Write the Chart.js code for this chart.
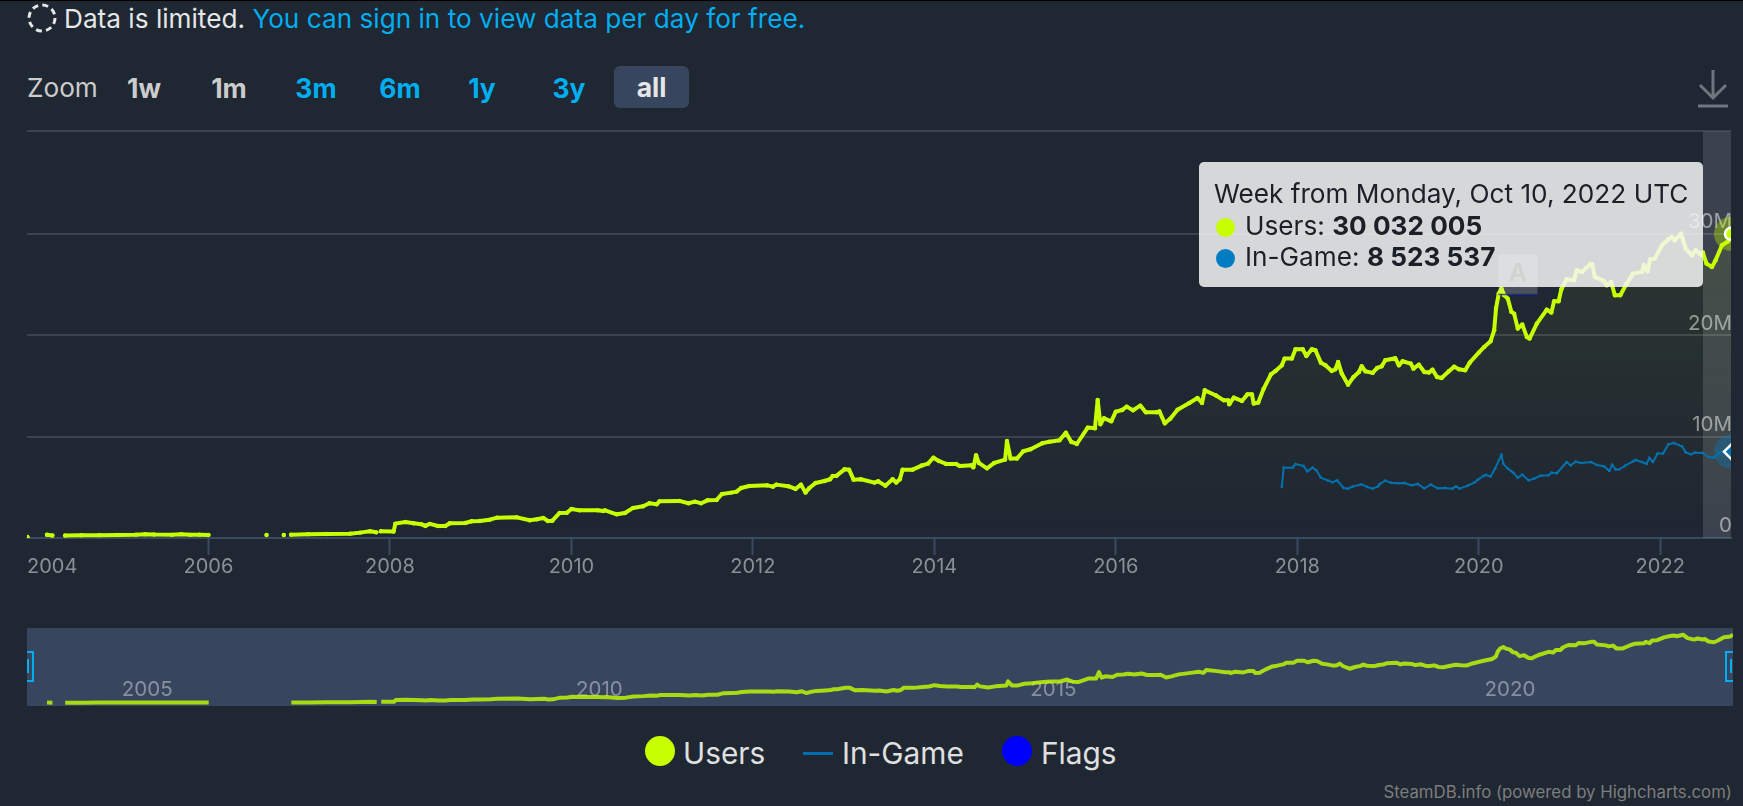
<!DOCTYPE html>
<html>
<head>
<meta charset="utf-8">
<title>Steam users</title>
<script src="https://cdn.jsdelivr.net/npm/chart.js@4/dist/chart.umd.min.js"></script>
<style>
  html, body { margin: 0; padding: 0; background: #1f2733; }
  body { width: 1743px; height: 806px; position: relative; overflow: hidden; font-family: Inter, sans-serif; color: #e6e6e6; }
  .abs { position: absolute; white-space: nowrap; }
  #topline { left: 0; top: 0; width: 1743px; height: 1px; background: #000; }
  #notice { left: 64px; top: 4px; font-size: 26.2px; line-height: 30px; }
  #notice span { color: #00aeef; }
  .btn { font-size: 26.5px; font-weight: 700; line-height: 42px; top: 67px; transform: translateX(-50%); color: #00aeef; }
  .btn.off { color: #cccccc; }
  #allbtn { left: 614px; top: 66px; width: 75px; height: 42px; background: #37465e; border-radius: 6px; text-align: center; transform: none; color: #e6e6e6; }
  #mainChart { left: 0; top: 118px; }
  #navWrap { left: 27px; top: 628px; width: 1706px; height: 78px; background: #37465e; }
  .handle { border: 2px solid #00aeef; height: 27px; width: 5px; top: 651px; }
  .grip { background: #00aeef; width: 2px; height: 14px; top: 659px; }
  #tooltip { left: 1199px; top: 162px; width: 504px; height: 125px; background: rgba(247,247,247,0.85); border-radius: 5px; color: #1a1f28; font-size: 26.2px; line-height: 32px; }
  #tooltip div { position: absolute; left: 15px; white-space: nowrap; }
  #tooltip i { display: inline-block; width: 19px; height: 19px; border-radius: 50%; margin-right: 10px; vertical-align: -2px; margin-left: 2px; }
  .legendText { font-size: 29.8px; line-height: 34px; top: 736px; color: #e0e0e0; }
  .legendDot { width: 30px; height: 30px; border-radius: 50%; top: 736px; }
  #credit { right: 11px; top: 782px; font-size: 16.8px; line-height: 20px; color: #7d7d7d; }
</style>
</head>
<body>
<div class="abs" id="topline"></div>
<svg class="abs" style="left:26px;top:2px" width="32" height="32"><circle cx="16" cy="16" r="13" fill="none" stroke="#e6e6e6" stroke-width="3" stroke-dasharray="6 4.2"/></svg>
<div class="abs" id="notice">Data is limited. <span>You can sign in to view data per day for free.</span></div>

<div class="abs" style="left:27px;top:67px;font-size:26.2px;line-height:42px;color:#ccc">Zoom</div>
<div class="abs btn off" style="left:144px">1w</div>
<div class="abs btn off" style="left:229px">1m</div>
<div class="abs btn" style="left:316px">3m</div>
<div class="abs btn" style="left:400px">6m</div>
<div class="abs btn" style="left:482px">1y</div>
<div class="abs btn" style="left:569px">3y</div>
<div class="abs btn" id="allbtn">all</div>
<svg class="abs" style="left:1694px;top:66px" width="38" height="44"><path d="M19 4V32M6 19L19 32L32 19M4 40H34" fill="none" stroke="#6f7680" stroke-width="3"/></svg>

<canvas class="abs" id="mainChart" width="1743" height="472"></canvas>

<div class="abs" id="tooltip">
  <div style="top:16px" id="ttTitle"></div>
  <div style="top:48px"><i style="background:#c7ff00"></i>Users: <b id="ttUsers"></b></div>
  <div style="top:79px"><i style="background:#007cc2"></i>In-Game: <b id="ttGame"></b></div>
</div>

<div class="abs" id="navWrap"><canvas id="navChart" width="1706" height="78"></canvas></div>
<div class="abs handle" style="left:27px;border-left:none"></div>
<div class="abs grip" style="left:27px"></div>
<div class="abs handle" style="left:1725px;border-right:none;width:6px"></div>
<div class="abs grip" style="left:1730px"></div>

<div class="abs legendDot" style="left:645px;background:#c7ff00"></div>
<div class="abs legendText" style="left:683px">Users</div>
<div class="abs" style="left:803px;top:752px;width:30px;height:3px;background:#006fb0"></div>
<div class="abs legendText" style="left:842px">In-Game</div>
<div class="abs legendDot" style="left:1002px;background:#0000ff"></div>
<div class="abs legendText" style="left:1041px">Flags</div>
<div class="abs" id="credit">SteamDB.info (powered by Highcharts.com)</div>

<script>
const minYear = 2004;
const maxYear = 2022.78;
const maxValue = 40.15;
const yearTicks = [2004, 2006, 2008, 2010, 2012, 2014, 2016, 2018, 2020, 2022];
const valueTicks = [0, 10, 20, 30, maxValue];
const navTicks = [2005, 2010, 2015, 2020];

const tooltipTitle = 'Week from Monday, Oct 10, 2022 UTC';
const tooltipUsers = '30 032 005';
const tooltipGame = '8 523 537';

// values in millions, null = gap in the line
const usersYears = [
  2004.005, 2004.1, 2004.22, 2004.28, 2004.35, 2004.42, 2004.6, 2004.8,
  2005.0, 2005.2, 2005.3, 2005.4, 2005.6, 2005.7, 2005.8, 2005.9, 2006.0,
  2006.3, 2006.64, 2006.75, 2006.83, 2006.87, 2006.91,
  2007.1, 2007.3, 2007.56, 2007.67, 2007.78, 2007.85, 2007.87, 2007.9, 2008.04,
  2008.06, 2008.17, 2008.26, 2008.35, 2008.39, 2008.44, 2008.53, 2008.61, 2008.66, 2008.83, 2008.9, 2008.99,
  2009.1, 2009.18, 2009.4, 2009.54, 2009.62, 2009.69, 2009.74, 2009.79, 2009.87, 2009.95,
  2010.0, 2010.09, 2010.29, 2010.35, 2010.37, 2010.5, 2010.59, 2010.68, 2010.79, 2010.86, 2010.94, 2010.97,
  2011.19, 2011.29, 2011.36, 2011.43, 2011.5, 2011.6, 2011.66, 2011.76, 2011.82, 2011.87, 2011.96,
  2012.16, 2012.22, 2012.26, 2012.39, 2012.47, 2012.53, 2012.58, 2012.62, 2012.69, 2012.79, 2012.85, 2012.88, 2012.92,
  2013.01, 2013.06, 2013.11, 2013.19, 2013.34, 2013.38, 2013.46, 2013.54, 2013.58, 2013.62, 2013.65, 2013.76, 2013.86, 2013.93, 2013.99,
  2014.05, 2014.13, 2014.24, 2014.28, 2014.41, 2014.43, 2014.46, 2014.49, 2014.58, 2014.66, 2014.78, 2014.8, 2014.84, 2014.91, 2014.98,
  2015.06, 2015.19, 2015.27, 2015.38, 2015.45, 2015.51, 2015.57, 2015.69, 2015.77, 2015.8, 2015.83, 2015.87, 2015.95,
  2016.0, 2016.07, 2016.12, 2016.19, 2016.27, 2016.33, 2016.45, 2016.48, 2016.54, 2016.6, 2016.68, 2016.81, 2016.9, 2016.95, 2016.98,
  2017.1, 2017.19, 2017.24, 2017.25, 2017.3, 2017.39, 2017.45, 2017.5, 2017.52, 2017.57, 2017.63, 2017.71, 2017.76, 2017.83, 2017.86, 2017.94, 2017.98,
  2018.06, 2018.1, 2018.16, 2018.2, 2018.26, 2018.31, 2018.38, 2018.42, 2018.45, 2018.49, 2018.56, 2018.62, 2018.68, 2018.71, 2018.75, 2018.83, 2018.88, 2018.93, 2018.97,
  2019.08, 2019.12, 2019.16, 2019.25, 2019.28, 2019.34, 2019.4, 2019.45, 2019.49, 2019.54, 2019.59, 2019.67, 2019.73, 2019.78, 2019.85, 2019.9, 2020.0,
  2020.06, 2020.13, 2020.17, 2020.19, 2020.22, 2020.25, 2020.28, 2020.32, 2020.36, 2020.39, 2020.43, 2020.48, 2020.53, 2020.56, 2020.64, 2020.75, 2020.8, 2020.83, 2020.88, 2020.91, 2020.97,
  2021.05, 2021.08, 2021.14, 2021.23, 2021.25, 2021.28, 2021.38, 2021.41, 2021.46, 2021.5, 2021.56, 2021.63, 2021.7, 2021.8, 2021.82, 2021.86, 2021.89, 2021.94,
  2022.02, 2022.09, 2022.13, 2022.16, 2022.23, 2022.28, 2022.35, 2022.39, 2022.45, 2022.47, 2022.51, 2022.57, 2022.61, 2022.68, 2022.75, 2022.78
];
const usersValues = [
  0.1, null, 0.32, 0.25, null, 0.25, 0.27, 0.28,
  0.3, 0.33, 0.38, 0.34, 0.31, 0.38, 0.31, 0.33, 0.3,
  null, 0.3, null, 0.3, null, 0.33,
  0.38, 0.4, 0.43, 0.53, 0.66, 0.56, null, 0.66, 0.63,
  1.42, 1.58, 1.45, 1.35, 1.19, 1.39, 1.19, 1.19, 1.45, 1.48, 1.65, 1.68,
  1.81, 2.01, 2.04, 1.75, 1.85, 1.98, 1.68, 1.71, 2.47, 2.5,
  2.87, 2.73, 2.73, 2.67, 2.73, 2.34, 2.47, 2.97, 3.13, 3.43, 3.33, 3.62,
  3.66, 3.43, 3.59, 3.43, 3.72, 3.75, 4.35, 4.48, 4.58, 4.94, 5.14,
  5.2, 5.07, 5.27, 5.11, 4.84, 5.27, 4.48, 4.91, 5.43, 5.63, 5.8, 6.13, 6.13,
  6.78, 6.75, 5.76, 5.8, 5.47, 5.6, 5.17, 5.8, 5.47, 5.8, 6.75, 6.75, 7.15, 7.34, 7.93,
  7.6, 7.31, 7.31, 7.11, 7.18, 6.98, 8.17, 7.41, 6.88, 7.41, 7.74, 9.58, 7.84, 7.84, 8.56,
  8.76, 9.35, 9.51, 9.65, 10.4, 9.48, 9.28, 10.9, 10.83, 13.63, 11.23, 11.82, 11.52,
  12.48, 12.64, 12.97, 12.61, 13.07, 12.41, 12.41, 12.5, 11.32, 11.78, 12.67, 13.33, 13.82, 13.33, 14.58,
  14.09, 13.59, 13.59, 13.2, 13.86, 13.53, 14.18, 14.18, 13.27, 13.37, 14.75, 16.16, 16.49, 17.05, 17.71, 17.71, 18.63,
  18.63, 17.97, 18.63, 18.53, 17.31, 17.05, 16.49, 16.66, 17.38, 16.23, 15.14, 15.9, 16.39, 16.95, 16.46, 16.3, 16.79, 16.95, 17.55,
  17.74, 17.05, 17.45, 17.22, 16.72, 17.12, 16.39, 16.33, 16.62, 15.9, 15.8, 16.46, 16.92, 16.66, 16.56, 17.31, 18.3,
  18.86, 19.42, 20.51, 22.65, 24.13, 24.62, 23.96, 23.63, 22.32, 22.15, 20.67, 21.07, 19.85, 19.69, 21.17, 22.55, 22.25, 23.37, 23.37, 24.56, 25.54,
  25.44, 26.43, 26.27, 27.02, 27.02, 25.77, 25.38, 24.95, 25.28, 23.96, 23.96, 25.12, 26.1, 26.27, 26.93, 26.33, 27.52, 27.58,
  28.9, 29.49, 29.69, 29.39, 30.05, 28.57, 27.91, 28.4, 27.98, 28.18, 27.09, 26.76, 27.42, 28.9, 29.3, 30.03
];

const gameYears = [
  2017.83, 2017.85, 2017.95, 2017.98,
  2018.07, 2018.11, 2018.17, 2018.21, 2018.26, 2018.34, 2018.39, 2018.44, 2018.51, 2018.56, 2018.61, 2018.71, 2018.77, 2018.83, 2018.89, 2018.91, 2018.97,
  2019.03, 2019.11, 2019.18, 2019.26, 2019.33, 2019.4, 2019.47, 2019.55, 2019.63, 2019.71, 2019.75, 2019.79, 2019.88, 2019.95, 2019.99,
  2020.05, 2020.08, 2020.13, 2020.18, 2020.25, 2020.27, 2020.32, 2020.38, 2020.43, 2020.48, 2020.55, 2020.61, 2020.68, 2020.77, 2020.8, 2020.86, 2020.97,
  2021.01, 2021.07, 2021.13, 2021.24, 2021.3, 2021.38, 2021.44, 2021.47, 2021.51, 2021.55, 2021.61, 2021.7, 2021.73, 2021.8, 2021.85, 2021.88, 2021.92, 2021.97,
  2022.03, 2022.09, 2022.15, 2022.24, 2022.28, 2022.34, 2022.38, 2022.47, 2022.53, 2022.59, 2022.65, 2022.74, 2022.78
];
const gameValues = [
  5.04, 6.94, 6.94, 7.3,
  7.11, 6.58, 6.94, 6.68, 5.96, 5.66, 5.5, 5.69, 4.94, 4.87, 5.07, 5.3, 5.04, 4.87, 5.1, 5.33, 5.66,
  5.46, 5.4, 5.43, 5.2, 5.33, 4.9, 5.27, 4.9, 4.94, 4.87, 5.1, 4.87, 5.17, 5.46, 5.76,
  6.12, 6.22, 6.06, 6.85, 8.23, 7.34, 6.85, 6.45, 5.96, 6.25, 5.69, 5.86, 6.15, 6.19, 6.45, 6.39, 7.5,
  7.17, 7.53, 7.4, 7.5, 7.21, 7.08, 6.62, 7.24, 6.75, 6.78, 7.11, 7.57, 7.7, 7.5, 7.31, 7.9, 7.5, 8.33,
  8.33, 9.25, 9.38, 9.05, 8.46, 8.26, 8.42, 8.39, 8.0, 7.93, 8.39, 8.82, 8.52
];

const flagYears = [2020.25];
const flagValues = [24.62];
const flagLabels = ['A'];

const toPoints = (xs, ys) => xs.map((x, i) => ({ x: x, y: ys[i] }));

document.getElementById('ttTitle').textContent = tooltipTitle;
document.getElementById('ttUsers').textContent = tooltipUsers;
document.getElementById('ttGame').textContent = tooltipGame;

const lastUsers = usersYears.length - 1;
const lastGame = gameYears.length - 1;

// crosshair band, halos on the hovered points, flag box
const hoverPlugin = {
  id: 'hover',
  beforeDatasetsDraw(chart) {
    const { ctx, chartArea, scales } = chart;
    const cx = scales.x.getPixelForValue(maxYear);
    ctx.save();
    ctx.beginPath();
    ctx.rect(chartArea.left, chartArea.top, chartArea.width, chartArea.height);
    ctx.clip();
    ctx.fillStyle = 'rgba(255,255,255,0.13)';
    ctx.fillRect(cx - 28, chartArea.top, 56, chartArea.height);
    [[usersValues[lastUsers], 'rgba(199,255,0,0.35)'], [gameValues[lastGame], 'rgba(0,124,194,0.35)']].forEach(h => {
      ctx.fillStyle = h[1];
      ctx.beginPath();
      ctx.arc(cx, scales.y.getPixelForValue(h[0]), 17, 0, Math.PI * 2);
      ctx.fill();
    });
    ctx.restore();
  },
  afterDatasetsDraw(chart) {
    const { ctx, scales } = chart;
    flagYears.forEach((yr, i) => {
      const x = scales.x.getPixelForValue(yr);
      const y = scales.y.getPixelForValue(flagValues[i]);
      ctx.save();
      ctx.fillStyle = 'rgba(255,255,255,0.2)';
      ctx.strokeStyle = 'rgba(20,40,150,0.8)';
      ctx.lineWidth = 1.5;
      ctx.fillRect(x - 3, y - 34, 39, 40);
      ctx.beginPath();
      ctx.moveTo(x - 3, y + 6);
      ctx.lineTo(x + 36, y + 6);
      ctx.stroke();
      ctx.fillStyle = '#000';
      ctx.font = 'bold 24px Inter';
      ctx.textAlign = 'center';
      ctx.textBaseline = 'middle';
      ctx.fillText(flagLabels[i], x + 16.5, y - 15);
      ctx.restore();
    });
  }
};

new Chart(document.getElementById('mainChart'), {
  type: 'line',
  data: {
    datasets: [
      {
        label: 'Users',
        data: toPoints(usersYears, usersValues),
        borderColor: '#c7ff00',
        borderWidth: 4,
        borderJoinStyle: 'round',
        borderCapStyle: 'round',
        tension: 0,
        spanGaps: false,
        fill: 'origin',
        backgroundColor: function (context) {
          const area = context.chart.chartArea;
          if (!area) return 'transparent';
          const y = context.chart.scales.y;
          const grad = context.chart.ctx.createLinearGradient(0, y.getPixelForValue(30), 0, y.getPixelForValue(0));
          grad.addColorStop(0, 'rgba(199,255,0,0.07)');
          grad.addColorStop(1, 'rgba(199,255,0,0)');
          return grad;
        },
        pointRadius: ctx => ctx.dataIndex === lastUsers ? 6 : 2.2,
        pointBorderWidth: ctx => ctx.dataIndex === lastUsers ? 2.5 : 0,
        pointBorderColor: '#ffffff',
        pointBackgroundColor: '#c7ff00'
      },
      {
        label: 'In-Game',
        data: toPoints(gameYears, gameValues),
        borderColor: '#006fb0',
        borderWidth: 2,
        borderJoinStyle: 'round',
        tension: 0,
        fill: false,
        pointRadius: ctx => ctx.dataIndex === lastGame ? 7 : 1.4,
        pointStyle: ctx => ctx.dataIndex === lastGame ? 'rectRot' : 'circle',
        pointBorderWidth: ctx => ctx.dataIndex === lastGame ? 2.5 : 0,
        pointBorderColor: '#ffffff',
        pointBackgroundColor: '#006fb0'
      }
    ]
  },
  options: {
    responsive: false,
    animation: false,
    layout: { padding: { left: 27, right: 10, top: 13, bottom: 0 } },
    plugins: { legend: { display: false }, tooltip: { enabled: false } },
    scales: {
      x: {
        type: 'linear',
        min: minYear,
        max: maxYear,
        afterBuildTicks: axis => { axis.ticks = yearTicks.concat(maxYear).map(v => ({ value: v })); },
        afterFit: axis => { axis.height = 52; },
        border: { color: '#3a4a63', width: 2 },
        grid: {
          drawOnChartArea: false,
          tickLength: 17,
          tickWidth: 2,
          tickColor: ctx => (ctx.tick && ctx.tick.value === maxYear) || ctx.index === 0 ? 'transparent' : '#3a4a63'
        },
        ticks: {
          align: 'inner',
          autoSkip: false,
          maxRotation: 0,
          padding: 0,
          color: '#8b9098',
          font: { family: 'Inter', size: 20 },
          callback: v => v === maxYear ? '' : String(v)
        }
      },
      y: {
        position: 'right',
        min: 0,
        max: maxValue,
        afterBuildTicks: axis => { axis.ticks = valueTicks.map(v => ({ value: v })); },
        border: { display: false },
        grid: { color: 'rgba(255,255,255,0.13)', lineWidth: 2, drawTicks: false },
        ticks: {
          mirror: true,
          padding: 1,
          labelOffset: -12,
          color: 'rgba(255,255,255,0.5)',
          font: { family: 'Inter', size: 20.5 },
          callback: v => v === 0 ? '0' : (v === maxValue ? '' : v + 'M')
        }
      }
    }
  },
  plugins: [hoverPlugin]
});

// year labels sit inside the navigator, just right of their tick
const navLabelPlugin = {
  id: 'navLabels',
  beforeDatasetsDraw(chart) {
    const { ctx, scales } = chart;
    ctx.save();
    ctx.fillStyle = 'rgba(255,255,255,0.4)';
    ctx.font = '20.5px Inter';
    ctx.textBaseline = 'middle';
    navTicks.forEach(t => ctx.fillText(String(t), scales.x.getPixelForValue(t) + 4, 62));
    ctx.restore();
  }
};

new Chart(document.getElementById('navChart'), {
  type: 'line',
  data: {
    datasets: [{
      data: toPoints(usersYears, usersValues),
      borderColor: 'rgba(199,255,0,0.8)',
      borderWidth: 4,
      borderJoinStyle: 'round',
      tension: 0,
      pointRadius: 0,
      fill: false
    }]
  },
  options: {
    responsive: false,
    animation: false,
    plugins: { legend: { display: false }, tooltip: { enabled: false } },
    scales: {
      x: { type: 'linear', display: false, min: minYear, max: maxYear },
      y: { display: false, min: -1.2, max: 33 }
    }
  },
  plugins: [navLabelPlugin]
});
</script>
</body>
</html>
